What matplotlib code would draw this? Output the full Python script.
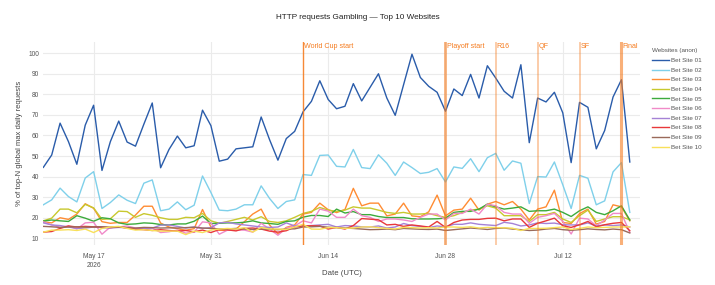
import matplotlib
matplotlib.use("Agg")
from matplotlib import pyplot as plt
import pandas as pd

plt.rcParams['font.family'] = ['Liberation Sans', 'DejaVu Sans']

dates = pd.date_range("2026-05-11", periods=71, freq="D")

site_01 = [44.5, 50.5, 66, 57, 46, 65, 74.7, 43, 57, 67, 56.8, 54.8, 65.5, 75.8, 44.3, 53.2, 59.7, 54, 55, 72.3,
           64.8, 47.5, 48.5, 53.5, 54, 54.5, 69, 58, 48, 58.5, 62, 71.5, 76.6, 86.6, 77.5, 73, 74.2, 85.2, 76.8, 83.4,
           90, 78.2, 69.8, 84.7, 99.5, 88.2, 83.9, 81, 71.8, 82.6, 79.4, 89.7, 78.2, 93.9, 87.9, 81.5, 78.2, 94.4, 56.5, 78.2,
           76.3, 81, 71, 46.8, 76.1, 73.7, 53.5, 62.4, 78.7, 87.1, 47.1]
site_02 = [26.3, 28.7, 34.4, 30.3, 27.7, 39.3, 42.4, 24.5, 27.4, 31.1, 28.5, 26.9, 36.8, 38.4, 23.4, 24.2, 27.7, 23.9, 26.1, 40.3,
           32.3, 23.7, 23.4, 24.2, 26.3, 26.3, 35.5, 29.4, 24.5, 27.9, 28.7, 41.0, 40.6, 50.3, 50.5, 45.0, 44.7, 53.2, 44.4, 43.9,
           50.6, 46.5, 40.6, 47.1, 44.4, 41.5, 42.1, 43.9, 37.4, 44.7, 44.0, 48.7, 42.4, 49.2, 51.3, 43.1, 47.6, 46.5, 26.9, 40.0,
           39.8, 47.1, 36.0, 24.5, 40.6, 39.2, 26.3, 28.2, 42.3, 46.8, 22.6]
site_03 = [18, 17.5, 20, 19.2, 21.8, 26.8, 24.6, 18.1, 17.3, 17.7, 17.7, 21.3, 25.6, 25.6, 17.4, 15.5, 14.7, 13.9, 14.7, 24,
           15.5, 13.9, 13.9, 14.5, 18.1, 21.8, 24.2, 16.5, 12.1, 15.3, 16.5, 21.8, 22.6, 27.1, 23.9, 22.5, 24, 34.3, 25.8, 27.1,
           27.1, 20.9, 21.8, 27.1, 20.9, 20.5, 22.9, 31, 20.9, 23.7, 24.2, 29.5, 23.7, 26.6, 27.9, 26.3, 27.9, 24.2, 18.9, 24.2,
           25.3, 33.4, 17.7, 17.2, 22, 24.2, 16.9, 18.2, 26.3, 25.3, 18.5]
site_04 = [18.5, 19.8, 24.2, 24.2, 22.4, 26.5, 24.8, 19.2, 19.5, 23.2, 23, 20.2, 22, 21.2, 20, 19.2, 19.2, 20.2, 20, 22.1,
           18.5, 17.3, 18.2, 19.2, 20.2, 18.9, 20.5, 18.2, 17.7, 18.5, 20.2, 22.1, 23.1, 25, 23.7, 23.1, 23.7, 25.3, 24.7, 24.7,
           23.7, 22.6, 22.1, 22.6, 21.8, 21.8, 22.1, 21, 20.2, 21, 22.6, 23.7, 24.2, 25.8, 24.7, 21, 21, 21, 18.2, 21.5,
           21.5, 22.6, 19.4, 17.7, 21, 23.7, 18.2, 19.4, 20.5, 20.5, 19]
site_05 = [18.4, 18.9, 18.5, 18.2, 21, 19.8, 18.3, 20, 19.5, 17.5, 16.8, 17, 17.5, 17.3, 16.7, 16.5, 17, 17, 18.3, 20.8,
           17.2, 17.3, 17.5, 17.5, 17.8, 18.5, 17.5, 17.2, 16.8, 18.2, 18.5, 20.3, 21.1, 21.1, 20.6, 24.2, 22.3, 23, 21.5, 21.5,
           20.6, 20.1, 20.1, 20.1, 19.5, 19.4, 19.4, 19.5, 19.8, 22.6, 23.1, 23.1, 24.2, 26.6, 25.3, 24.2, 24.7, 25.3, 23.1, 23.4,
           23.4, 24.2, 22.6, 20.6, 23.4, 25.3, 22.6, 21.5, 23.4, 25.8, 18.9]
site_06 = [18, 16.5, 15.3, 16, 14.5, 17.5, 17.8, 12, 15.5, 15.5, 16, 15, 14.5, 15, 12.8, 13.2, 14, 12.5, 13, 18,
           17.5, 12, 14, 14, 14, 13, 17.3, 14.5, 11.5, 15, 16, 18.5, 17.5, 24.2, 23.2, 20.2, 20.2, 24.2, 21, 20.2,
           18.2, 19.4, 19.4, 18.9, 18.2, 20.2, 21.8, 21.8, 18.9, 22.1, 22.1, 24.2, 21.8, 26.6, 25.8, 22.6, 21.8, 21.8, 17.3, 20.2,
           21, 22.1, 18.2, 12.1, 19.8, 19.4, 16.1, 18.9, 22.1, 22.1, 12.9]
site_07 = [17.5, 16.5, 16.2, 15.5, 14.8, 15, 15.5, 15.2, 15, 15.3, 15.1, 14.5, 14.8, 15, 16.4, 16.5, 15.8, 15, 15.5, 14.8,
           15.2, 17.5, 17.8, 17, 16.5, 16, 15.5, 15.3, 15.5, 17.5, 16, 16, 16.2, 16.5, 16.8, 15.5, 16.2, 16, 15.6, 15.5,
           16, 15, 15.5, 17.2, 16.2, 15.8, 15.2, 16, 15.6, 16.8, 16.8, 17.5, 16.8, 16.5, 16.2, 17.8, 17.2, 16, 16.5, 17.5,
           17.2, 17.4, 16.6, 16.5, 16.5, 17.5, 16, 16.5, 16.2, 16.5, 15.5]
site_08 = [13, 13.3, 14.8, 16, 15.5, 15.8, 15.6, 15.5, 15.2, 15.6, 15, 14.5, 14.2, 13.8, 14.2, 13.8, 13.5, 13.8, 13.2, 14,
           12.8, 14.3, 14.1, 13.6, 14.8, 15, 14.5, 13.5, 13, 13.7, 15.5, 16, 16.1, 16, 14.5, 15.3, 14.5, 16.2, 19.6, 19.3,
           19, 16.5, 16.8, 15.8, 16.5, 16, 15.5, 18.2, 15.3, 17.7, 18.9, 19.2, 19.2, 19.7, 19.8, 18.5, 19.4, 19.4, 15.3, 17.3,
           18.5, 19.8, 16.1, 15.3, 16.6, 18.2, 15.6, 16.6, 17.3, 17.7, 13.7]
site_09 = [15.8, 15.6, 15.3, 15.5, 15.6, 15.4, 15.5, 15.6, 15.4, 15.5, 15.2, 15, 15.3, 15.2, 15, 15.1, 15, 15.2, 15.4, 15,
           14.8, 14.5, 14.6, 14.8, 14.5, 14.3, 14.5, 14.4, 14.2, 14.5, 14.6, 15.5, 15.6, 15.8, 15.4, 15.2, 15, 14.8, 14.5, 14.2,
           14.3, 14.5, 14.2, 14.8, 14.6, 14.4, 14.3, 14.5, 13.8, 14.2, 14.6, 15, 14.7, 14.3, 14.8, 15, 14.5, 14.2, 13.8, 14,
           14.5, 14.8, 14.2, 13.9, 14.2, 14.6, 14.3, 14.1, 14.5, 14.2, 12.6]
site_10 = [13, 14, 14, 14.2, 13.8, 14.5, 12.8, 14.8, 15.5, 15.8, 14.8, 14, 14.2, 13.8, 13.5, 13.5, 13.5, 11.8, 13.5, 12.8,
           14, 14.5, 14.8, 14.5, 15.2, 13, 15.3, 14.5, 14.5, 14.3, 15.5, 16.8, 14.5, 14.4, 15.2, 15.2, 14.8, 15, 15.5, 15.6,
           15.2, 14.8, 14.5, 15.3, 15.2, 15, 15.2, 15, 15.5, 15.5, 15.3, 15.6, 15, 15.3, 15.2, 15.1, 14.9, 13.8, 14.8, 14.8,
           14.9, 15.2, 15.5, 14.3, 14.8, 15.5, 15.2, 15.3, 15.5, 15.5, 15.6]

series = [site_01, site_02, site_03, site_04, site_05, site_06, site_07, site_08, site_09, site_10]
names = ["Bet Site %02d" % i for i in range(1, 11)]
colors = ['#2a5caa', '#7fd0ea', '#ff8c33', '#c8c82e', '#3cab3c',
          '#f08ac8', '#a582d6', '#e8383a', '#9a6a5a', '#f8e05a']

event_dates = ["2026-06-11", "2026-06-28", "2026-07-04", "2026-07-09", "2026-07-14", "2026-07-19"]
event_labels = ["World Cup start", "Playoff start", "R16", "QF", "SF", "Final"]
event_widths = [1.0, 2.0, 1.2, 1.2, 1.2, 2.2]
event_alpha = [0.9, 0.6, 0.45, 0.45, 0.45, 0.6]

tick_dates = ["2026-05-17", "2026-05-31", "2026-06-14", "2026-06-28", "2026-07-12"]
tick_labels = ["May 17\n2026", "May 31", "Jun 14", "Jun 28", "Jul 12"]

fig = plt.figure(figsize=(7.15, 2.85), dpi=100)
ax = fig.add_axes([0.0606, 0.14, 0.8344, 0.713])

for s, name, c in zip(series, names, colors):
    ax.plot(dates, s, color=c, lw=1.0, label=name)

for d, lab, w, a in zip(event_dates, event_labels, event_widths, event_alpha):
    d = pd.Timestamp(d)
    ax.axvline(d, color='#f57c20', lw=w, alpha=a, zorder=3)
    ax.text(d + pd.Timedelta(hours=3), 105.0, lab, color='#f57c20', fontsize=5.1, ha='left', va='top')

ax.set_xlim(dates[0], dates[-1] + pd.Timedelta(hours=29))
ax.set_ylim(6.7, 105.5)
ax.set_yticks(range(10, 101, 10))
ax.set_xticks([pd.Timestamp(t) for t in tick_dates])
ax.set_xticklabels(tick_labels, linespacing=1.25)
ax.tick_params(labelsize=4.8, colors='#555555', length=0, pad=3)
ax.tick_params(axis='x', pad=6)
ax.grid(color='#ebebeb', lw=0.8)
ax.set_axisbelow(True)
for sp in ax.spines.values():
    sp.set_visible(False)

ax.set_xlabel("Date (UTC)", fontsize=5.6, color='#444444', labelpad=1)
ax.set_ylabel("% of top-N global max daily requests", fontsize=5.5, color='#444444', labelpad=4)
fig.suptitle("HTTP requests Gambling — Top 10 Websites", fontsize=5.9, x=0.5, y=0.95, color='#222222')

leg = ax.legend(loc='upper left', bbox_to_anchor=(1.016, 0.98), frameon=False, fontsize=4.5,
                title="Websites (anon)", title_fontsize=4.5, handlelength=2.7, labelspacing=0.68,
                handletextpad=0.35, borderaxespad=0)
for t in leg.get_texts():
    t.set_color('#555555')
leg.get_title().set_color('#555555')
leg._legend_box.align = "left"

fig.savefig("out.png", dpi=100)
